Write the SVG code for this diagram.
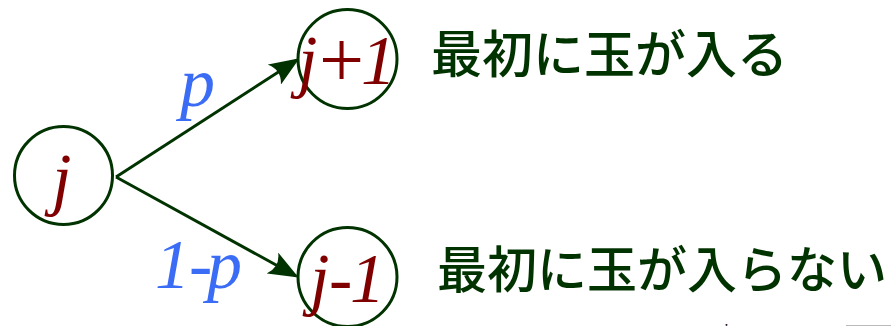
<svg xmlns="http://www.w3.org/2000/svg" width="891" height="326" viewBox="0 0 891 326">
<style>
.node{fill:#fff;stroke:#003300;stroke-width:3}
.edge{stroke:#003300;stroke-width:3;fill:none}
.var{font-family:"Liberation Serif","Times New Roman",serif;font-style:italic;fill:#800000;font-size:70px}
.op{font-family:"Liberation Serif",serif;font-style:normal;font-size:80px;fill:#800000}
.prob{font-family:"Liberation Serif","Times New Roman",serif;font-style:italic;fill:#3b6cf5;font-size:70px}
.jp{font-family:"Noto Sans CJK JP",sans-serif;fill:#003300;font-weight:500}
</style>
<defs>
<marker id="ah" markerWidth="10" markerHeight="8" refX="9" refY="4" orient="auto" markerUnits="strokeWidth">
<path d="M0,0 L10,4 L0,8 Q3,4 0,0 Z" fill="#003300"/>
</marker>
</defs>
<g id="connectors">
<line class="edge" x1="116" y1="177" x2="297" y2="60" marker-end="url(#ah)"/>
<line class="edge" x1="116" y1="177" x2="296" y2="276" marker-end="url(#ah)"/>
<text class="prob" x="180" y="106">p</text>
<text class="prob" y="288"><tspan x="155">1</tspan><tspan x="189">-</tspan><tspan x="207">p</tspan></text>
</g>
<g id="node-j">
<circle class="node" cx="63.5" cy="175.5" r="49"/>
<text class="var" x="52" y="202">j</text>
</g>
<g id="node-jp1">
<circle class="node" cx="347.5" cy="59" r="49.5"/>
<text class="var" x="298" y="84">j</text>
<text class="op" x="319" y="87">+</text>
<text class="var" x="361" y="84" font-size="72">1</text>
</g>
<g id="node-jm1">
<circle class="node" cx="347.5" cy="277" r="49.5"/>
<text class="var" y="302"><tspan x="310">j</tspan><tspan x="329">-</tspan><tspan x="350">1</tspan></text>
</g>
<g id="label-top">
<text class="jp" x="431" y="73" font-size="51">最初に玉が入る</text>
</g>
<g id="label-bottom">
<text class="jp" x="437" y="288" font-size="50">最初に玉が入らない</text>
</g>
<g id="edge-fragments">
<text x="724" y="334" font-family="Liberation Serif,serif" font-style="italic" font-size="14" fill="#000">k</text>
<line x1="846" y1="325.5" x2="891" y2="325.5" stroke="#bbbbbb" stroke-width="1"/>
</g>
</svg>
